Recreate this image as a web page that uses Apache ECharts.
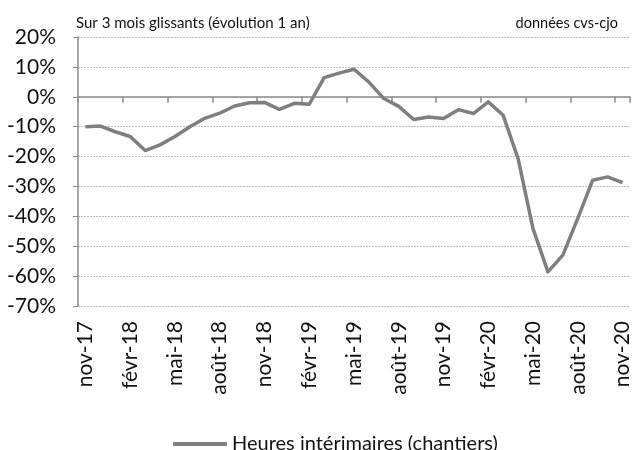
<!DOCTYPE html>
<html lang="fr">
<head>
    <meta charset="UTF-8">
    <title>Heures intérimaires</title>
    <style>
        html, body { margin: 0; padding: 0; background: #fff; }
        .box { width: 633px; height: 450px; }
    </style>
    <script src="https://cdn.jsdelivr.net/npm/echarts@6/dist/echarts.min.js"></script>
</head>
<body>
    <div class="box" id="chart"></div>
    <script>
        // mois (nov-17 -> nov-20)
        const months = [
            'nov-17', 'déc-17', 'janv-18', 'févr-18', 'mars-18', 'avr-18', 'mai-18', 'juin-18', 'juil-18', 'août-18', 'sept-18', 'oct-18',
            'nov-18', 'déc-18', 'janv-19', 'févr-19', 'mars-19', 'avr-19', 'mai-19', 'juin-19', 'juil-19', 'août-19', 'sept-19', 'oct-19',
            'nov-19', 'déc-19', 'janv-20', 'févr-20', 'mars-20', 'avr-20', 'mai-20', 'juin-20', 'juil-20', 'août-20', 'sept-20', 'oct-20',
            'nov-20'
        ];
        // évolution sur 1 an, en %
        const interim = [
            -10.0, -9.8, -11.7, -13.3, -18.0, -16.1, -13.3, -10.0, -7.2, -5.5, -3.1, -2.0,
            -1.9, -4.2, -2.2, -2.5, 6.4, 7.9, 9.2, 4.9, -0.6, -3.2, -7.6, -6.8,
            -7.3, -4.3, -5.6, -1.7, -6.2, -20.7, -44.1, -58.6, -53.0, -40.7, -27.9, -26.8,
            -28.7
        ];
        const yTicks = { min: -70, max: 20, step: 10 };

        const font = 'Lato, "Liberation Sans", sans-serif';
        const chart = echarts.init(document.getElementById('chart'));

        chart.setOption({
            animation: false,
            textStyle: { fontFamily: font },
            title: [{
                text: 'Sur 3 mois glissants (évolution 1 an)',
                left: 71, top: 11,
                textStyle: { fontSize: 15, fontWeight: 'normal', color: '#111', fontFamily: font }
            }, {
                text: 'données cvs-cjo',
                right: 10, top: 11,
                textStyle: { fontSize: 14.5, fontWeight: 'normal', color: '#111', fontFamily: font }
            }],
            legend: {
                left: 168, top: 429,
                icon: 'rect',
                itemWidth: 54, itemHeight: 4, itemGap: 4,
                textStyle: { fontSize: 20, color: '#111', fontFamily: font },
                data: ['Heures intérimaires (chantiers)']
            },
            grid: { left: 78, right: 1, top: 37, bottom: 144, containLabel: false },
            xAxis: [{
                type: 'category',
                data: months,
                boundaryGap: true,
                position: 'bottom',
                axisLine: { show: false, onZero: false },
                axisTick: { show: false },
                axisLabel: {
                    interval: 2, rotate: 90, margin: 15,
                    fontSize: 21, color: '#111', fontFamily: font
                }
            }, {
                type: 'category',
                data: months,
                boundaryGap: true,
                position: 'bottom',
                axisLine: { show: true, onZero: true, lineStyle: { color: '#8c8c8c', width: 1.5 } },
                axisTick: { show: true, interval: 2, length: 6, lineStyle: { color: '#8c8c8c', width: 1.5 } },
                axisLabel: { show: false }
            }],
            yAxis: {
                type: 'value',
                min: yTicks.min, max: yTicks.max, interval: yTicks.step,
                axisLine: { show: true, lineStyle: { color: '#8c8c8c', width: 1.5 } },
                axisTick: { show: true, length: 5, lineStyle: { color: '#8c8c8c' } },
                axisLabel: {
                    formatter: '{value}%', margin: 22,
                    fontSize: 21, color: '#111', fontFamily: font
                },
                splitLine: { lineStyle: { color: '#bdbdbd', type: [2, 1], width: 1 } }
            },
            series: [{
                name: 'Heures intérimaires (chantiers)',
                type: 'line',
                xAxisIndex: 0,
                data: interim,
                symbol: 'none',
                color: '#7f7f7f',
                lineStyle: { color: '#7f7f7f', width: 3.5, join: 'round' }
            }]
        });
    </script>
</body>
</html>
